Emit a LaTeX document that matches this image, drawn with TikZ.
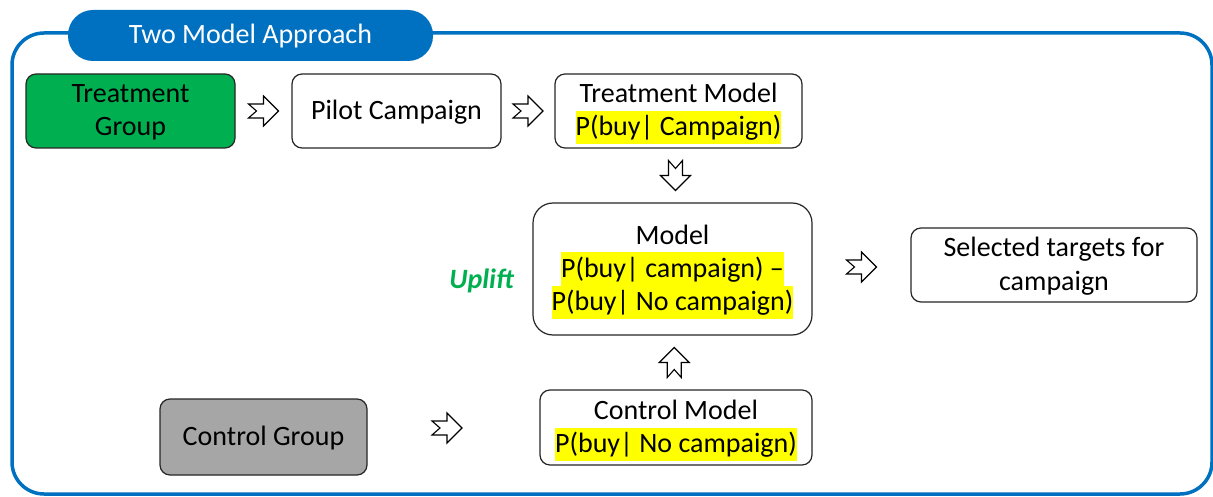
\documentclass[tikz,border=0pt]{standalone}
\usepackage{fontspec}
\setmainfont{Carlito}
\usetikzlibrary{calc}
\definecolor{frameblue}{HTML}{0070C0}
\definecolor{tgreen}{HTML}{00B050}
\definecolor{cgray}{HTML}{A6A6A6}
\definecolor{hlyellow}{HTML}{FFFF00}
\newcommand{\lstrut}{\rule[-8pt]{0pt}{33pt}}
\newcommand{\hlt}[1]{{\setlength{\fboxsep}{0pt}\colorbox{hlyellow}{\lstrut #1}}}
\begin{document}
\begin{tikzpicture}[x=1pt,y=-1pt,
  font=\fontsize{28}{33}\selectfont,
  box/.style={draw=black!85, line width=1.2pt, rounded corners=10pt, align=center, inner sep=0pt},
  barrow/.pic={\draw[fill=white, line width=1.1pt, line join=miter]
     (-15,-7)--(0,-7)--(0,-15)--(15,0)--(0,15)--(0,7)--(-15,7)--(-7,0)--cycle;}]
\useasboundingbox (0,0) rectangle (1213,497);
\clip (0,0) rectangle (1213,497);
% frame
\draw[frameblue, line width=3.5pt, rounded corners=32pt] (12,33) rectangle (1212,494);
\node[fill=frameblue, rounded corners=25pt, minimum width=365pt, minimum height=51pt, inner sep=0pt, text=white] (tab) at (250.5,35.5) {\lstrut Two Model Approach};
% boxes
\node[box, fill=tgreen, minimum width=209pt, minimum height=74pt] (tg) at (130.5,111) {\lstrut Treatment\\\lstrut Group};
\node[box, fill=white, minimum width=209pt, minimum height=74pt] (pc) at (396.5,111) {\lstrut Pilot Campaign};
\node[box, fill=white, minimum width=247pt, minimum height=74pt] (tm) at (678.5,111) {\lstrut Treatment Model\\\hlt{P(buy| Campaign)}};
\node[box, fill=white, rounded corners=20pt, minimum width=279pt, minimum height=132pt] (m) at (672.5,269) {\lstrut Model\\\hlt{P(buy| campaign) --}\\\hlt{P(buy| No campaign)}};
\node[box, fill=white, minimum width=286pt, minimum height=74pt] (st) at (1054,265) {\lstrut Selected targets for\\\lstrut campaign};
\node[box, fill=cgray, minimum width=207pt, minimum height=76pt] (cg) at (263.5,437) {\lstrut Control Group};
\node[box, fill=white, minimum width=272pt, minimum height=75pt] (cm) at (676,427.5) {\lstrut Control Model\\\hlt{P(buy| No campaign)}};
\node[text=tgreen, font=\fontsize{28}{33}\selectfont\bfseries\itshape] (up) at (481.5,280) {\lstrut Uplift};
% arrows
\pic at ($(tg.east)!0.5!(pc.west)$) {barrow};
\pic at ($(pc.east)!0.5!(tm.west)$) {barrow};
\pic[rotate=-90] at ($(tm.south)!0.5!(m.north)$) {barrow};
\pic[rotate=90] at ($(cm.north)!0.5!(m.south)$) {barrow};
\pic at ($(m.east)!0.5!(st.west)$) {barrow};
\coordinate (ca) at (447,428);
\pic at (ca) {barrow};
\end{tikzpicture}
\end{document}
